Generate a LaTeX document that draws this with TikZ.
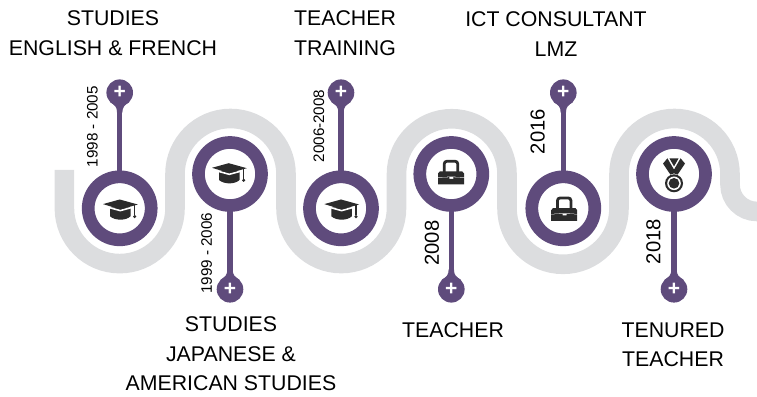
\documentclass[tikz,border=0pt]{standalone}
\usepackage{fontspec}
\setmainfont{Liberation Sans}
\definecolor{plum}{HTML}{5F4B7C}
\definecolor{road}{HTML}{DCDDDF}
\definecolor{ink}{HTML}{2B2B2B}
\tikzset{
  gradcap/.pic={
    \fill[ink] (-11,3) -- (9.5,3) -- (9.5,-6) .. controls (5,-10.5) and (-6,-10.5) .. (-11,-6) -- cycle;
    \draw[white,line width=1.6pt] (-11.5,2.6) -- (-0.7,-0.3) -- (10,2.6);
    \fill[ink] (-18,6.2) -- (-1.3,10.8) -- (16.8,5.8) -- (-0.7,0.9) -- cycle;
    \draw[ink,line width=1.3pt] (13.7,6) -- (13.7,-5);
    \fill[ink] (13.7,-6.3) circle (1.7);
  },
  briefcase/.pic={
    \draw[ink,line width=2.8pt,rounded corners=2.5pt] (-7,1) -- (-7,12.7) -- (6.4,12.7) -- (6.4,1);
    \fill[ink] (-11.5,2.6) -- (10.9,2.6) -- (12.7,0.5) -- (12.7,-3.2) -- (1.5,-2.6) -- (-1.5,-2.6) -- (-13.3,-3.2) -- (-13.3,0.5) -- cycle;
    \fill[ink] (-13.3,-3.7) -- (-2,-3.2) -- (-2,-4.8) -- (2,-4.8) -- (2,-3.2) -- (12.7,-3.7) -- (12.7,-10.3) -- (-13.3,-10.3) -- cycle;
  },
  medal/.pic={
    \fill[ink] (-4.6,15.7) -- (4.6,15.7) -- (0,7.6) -- cycle;
    \fill[ink] (-11,10.4) -- (-6.6,15.7) -- (0,4.4) -- (0,0.6) -- (-3.6,-0.6) -- cycle;
    \fill[ink] (11,10.4) -- (6.6,15.7) -- (0,4.4) -- (0,0.6) -- (3.6,-0.6) -- cycle;
    \fill[ink] (0,-9.3) circle (9);
    \fill[white] (0,-9.3) circle (6.8);
    \fill[ink] (0,-9.3) circle (5.3);
  }
}
\begin{document}
\begin{tikzpicture}[x=1pt,y=1pt]
    \tikzstyle{ring}=[circle,draw=plum,line width=12.7pt,fill=white,minimum size=63pt,inner sep=0pt,outer sep=0pt]
    \tikzstyle{pin}=[circle,fill=plum,minimum size=26.6pt,inner sep=0pt,outer sep=0pt,text=white,font=\fontsize{21}{21}\selectfont\bfseries]
    \tikzstyle{stem}=[draw=plum,line width=5.3pt]
    \tikzstyle{label}=[align=center,inner sep=0pt,font=\fontsize{21.3}{29.5}\selectfont]
    \tikzstyle{smalldate}=[rotate=90,inner sep=0pt,font=\fontsize{15.2}{16}\selectfont]
    \tikzstyle{date}=[rotate=90,inner sep=0pt,font=\fontsize{20.2}{22}\selectfont]
    \useasboundingbox (0,0) rectangle (757,396);
    \draw[road,line width=19.6pt] (64.4,226) -- (64.4,187.7) arc (180:360:55.3)
        -- (175,222) arc (180:0:55.5) -- (286,187.7) arc (180:360:55.25)
        -- (396.5,222) arc (180:0:55.25) -- (507,187.7) arc (180:360:56)
        -- (619,222) arc (180:0:55.5) -- (730,211.5) arc (180:270:27) -- (760,184.5);
    \path (119.7,187.7) node [ring] (ring1) {};
    \path (230,222) node [ring] (ring2) {};
    \path (341,187.7) node [ring] (ring3) {};
    \path (451.3,222) node [ring] (ring4) {};
    \path (563.3,187.7) node [ring] (ring5) {};
    \path (674,222) node [ring] (ring6) {};
    \path (119.7,303.3) node [pin] (pin1) {+};
    \path (230,106.7) node [pin] (pin2) {+};
    \path (341,303.3) node [pin] (pin3) {+};
    \path (451.3,106.7) node [pin] (pin4) {+};
    \path (563.3,303.3) node [pin] (pin5) {+};
    \path (674,106.7) node [pin] (pin6) {+};
    \foreach \n/\s in {1/1,2/-1,3/1,4/-1,5/1,6/-1} {
        \draw[stem] (ring\n) -- (pin\n);
        \fill[plum,shift={(pin\n)},yscale=\s] (-9.5,-9.5) .. controls (-5,-12.5) and (-2.65,-14) .. (-2.65,-20) -- (2.65,-20) .. controls (2.65,-14) and (5,-12.5) .. (9.5,-9.5) -- cycle;
    }
    \path (ring1) ++(1.3,-2) pic {gradcap};
    \path (ring2) pic {gradcap};
    \path (ring3) ++(1.3,-2) pic {gradcap};
    \path (ring4) pic {briefcase};
    \path (ring5) ++(1.2,-2.4) pic {briefcase};
    \path (ring6) pic {medal};
    \path (113,363) node [label] (study1) {STUDIES\\ENGLISH \& FRENCH};
    \path (345,363) node [label] (train) {TEACHER\\TRAINING};
    \path (556,362) node [label] (ict) {ICT CONSULTANT\\LMZ};
    \path (231,42) node [label] (study2) {STUDIES\\JAPANESE \&\\AMERICAN STUDIES};
    \path (453,66) node [label] (teach) {TEACHER};
    \path (673,51) node [label] (tenure) {TENURED\\TEACHER};
    \path (92.3,269.3) node [smalldate] (year1) {1998 - 2005};
    \path (206.7,142.7) node [smalldate] (year2) {1999 - 2006};
    \path (319,270) node [smalldate] (year3) {2006-2008};
    \path (432,153) node [date] (year4) {2008};
    \path (537.7,264.3) node [date] (year5) {2016};
    \path (653.3,154.3) node [date] (year6) {2018};
\end{tikzpicture}
\end{document}
